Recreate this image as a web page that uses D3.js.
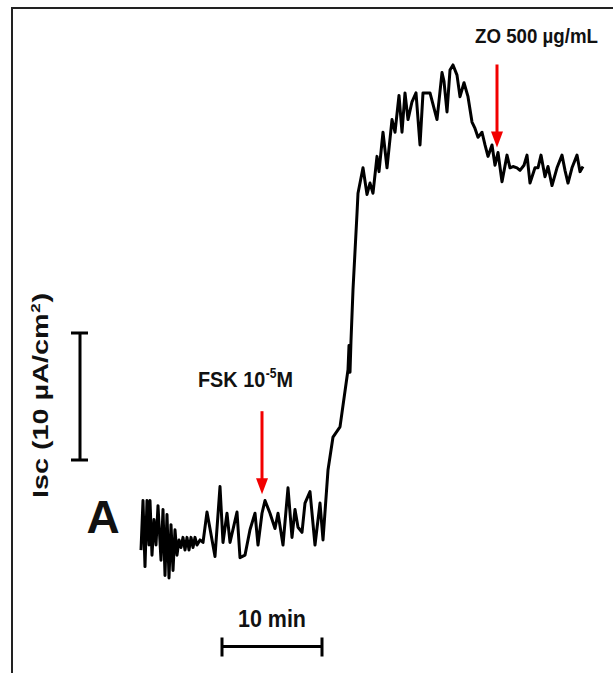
<!DOCTYPE html>
<html>
<head>
<meta charset="utf-8">
<script src="https://cdn.jsdelivr.net/npm/d3@7"></script>
<style>
  body { margin: 0; background: #fff; }
  .lbl { font-family: "Liberation Sans", Arial, sans-serif; font-weight: bold; fill: #111; }
</style>
</head>
<body>
<div id="chart"></div>
<script>
// trace data: time (min) and short-circuit current (µA/cm²)
var time = [0.1,0.3,0.5,0.7,0.9,1.0,1.2,1.4,1.6,1.8,2.1,2.3,2.5,2.7,2.9,3.1,3.3,3.5,3.7,3.9,
  4.1,4.3,4.5,4.7,4.9,5.1,5.3,5.5,5.7,6.0,6.3,6.7,7.5,8.0,8.3,8.7,9.0,9.7,10.0,10.5,
  11.0,11.5,11.8,12.2,12.5,13.0,13.5,13.8,14.3,14.8,15.2,15.5,15.8,16.2,16.5,17.0,17.5,18.0,18.3,18.8,
  19.3,20.0,20.8,20.9,21.0,21.1,21.3,21.7,21.8,22.3,22.7,23.0,23.3,23.7,23.9,24.3,24.7,25.2,25.5,25.9,
  26.2,26.5,26.8,27.2,27.6,28.0,28.3,29.0,29.7,30.2,30.4,30.7,31.0,31.3,31.7,32.0,32.4,32.8,33.2,33.5,
  33.8,34.2,34.5,34.8,35.2,35.5,35.8,36.2,36.7,37.0,37.3,37.7,38.0,38.4,38.7,39.0,39.5,39.8,40.1,40.5,
  40.8,41.2,41.7,42.2,42.5,42.8,43.2,43.7,44.0,44.3];
var isc = [-0.4,3.5,-1.7,3.5,0.0,3.5,-0.8,2.0,0.0,3.1,-1.2,2.8,-2.4,2.4,-2.6,1.6,-2.0,1.2,-0.8,0.4,
  -0.2,0.6,-0.4,0.6,-0.4,0.6,-0.2,0.6,0.0,0.4,0.2,2.6,-0.9,4.6,0.2,2.5,0.2,2.6,-1.0,-0.8,
  1.2,2.5,0.0,2.5,3.5,2.5,1.3,2.5,0.0,4.5,0.6,2.8,1.4,1.0,3.3,4.2,0.0,3.3,0.4,5.9,
  8.5,9.3,13.8,15.7,13.6,16.1,20.1,26.1,27.7,29.7,27.6,28.5,27.7,30.6,29.4,32.5,29.7,33.5,32.5,35.4,
  32.5,35.6,33.5,34.9,35.6,31.5,35.6,35.6,33.5,37.2,36.5,34.1,37.4,37.8,37.0,35.3,36.4,35.3,33.3,32.8,
  32.1,32.5,31.5,30.6,31.5,29.9,30.9,28.6,30.7,29.7,29.8,29.7,29.5,29.9,30.7,28.5,29.7,29.7,30.7,29.0,
  29.8,28.3,29.7,30.7,29.5,28.5,29.7,30.7,29.4,29.8];

// treatments (arrow time, arrow tip level)
var treatLabel = ["FSK 10", "ZO 500 µg/mL"];
var treatTime = [12.2, 35.7];
var treatLevel = [4.0, 31.3];

// scale bars
var barMinutes = 10, barMinStart = 8.2, barMinLevel = -8.0;
var barIsc = 10, barIscStart = 6.7, barIscTime = -6.0;

var W = 613, H = 673;
var x = d3.scaleLinear().domain([0, 44]).range([140, 580]);
var y = d3.scaleLinear().domain([0, 40]).range([545, 37]);

var svg = d3.select("#chart").append("svg")
    .attr("width", W)
    .attr("height", H)
    .style("background-color", "#fff");

// frame (top + left only)
svg.append("path")
    .attr("d", "M12," + H + "V8H" + W)
    .attr("fill", "none")
    .attr("stroke", "#222")
    .attr("stroke-width", 2);

// trace
var line = d3.line()
    .x(function(d, i) { return x(time[i]); })
    .y(function(d) { return y(d); });

svg.append("path")
    .datum(isc)
    .attr("d", line)
    .attr("fill", "none")
    .attr("stroke", "#000")
    .attr("stroke-width", 3)
    .attr("stroke-linejoin", "round");

// arrows
var arrowLen = 83, headLen = 16, headW = 6;
treatTime.forEach(function(t, i) {
  var ax = x(t), tip = y(treatLevel[i]);
  svg.append("line")
      .attr("x1", ax).attr("x2", ax)
      .attr("y1", tip - arrowLen).attr("y2", tip - headLen + 2)
      .attr("stroke", "#f20000")
      .attr("stroke-width", 3);
  svg.append("path")
      .attr("d", "M" + (ax - headW) + "," + (tip - headLen) + "L" + (ax + headW) + "," + (tip - headLen) + "L" + ax + "," + tip + "Z")
      .attr("fill", "#f20000");
});

// writes pieces of text one after another, then squeezes/stretches
// the group so the whole label spans `len` pixels
function fitText(px, py, rot, len, parts) {
  var g = svg.append("g");
  var inner = g.append("g");
  var cx = 0;
  parts.forEach(function(p) {
    var t = inner.append("text")
        .attr("class", "lbl")
        .attr("x", cx)
        .attr("y", p.dy || 0)
        .style("font-size", p.size + "px")
        .text(p.text);
    cx += t.node().getComputedTextLength() + (p.gap || 0);
  });
  g.attr("transform", "translate(" + px + "," + py + ")" + (rot ? " rotate(" + rot + ")" : ""));
  inner.attr("transform", "scale(" + (len / cx) + ",1)");
}

// FSK label with superscript
fitText(x(treatTime[0]) - 64, y(treatLevel[0]) - arrowLen - 24, 0, 95, [
  {text: treatLabel[0], size: 23, gap: 0.5},
  {text: "-5", size: 14, dy: -9},
  {text: "M", size: 23}
]);

// ZO label
fitText(x(treatTime[1]) - 22, y(treatLevel[1]) - arrowLen - 21, 0, 123, [
  {text: treatLabel[1], size: 21}
]);

// horizontal scale bar (10 min)
var hy = y(barMinLevel), hx0 = x(barMinStart), hx1 = x(barMinStart + barMinutes);
svg.append("path")
    .attr("d", "M" + hx0 + "," + hy + "H" + hx1 + "M" + hx0 + "," + (hy - 9) + "V" + (hy + 10) + "M" + hx1 + "," + (hy - 9) + "V" + (hy + 10))
    .attr("fill", "none").attr("stroke", "#000").attr("stroke-width", 3);
fitText((hx0 + hx1) / 2 - 34, hy - 20, 0, 68, [
  {text: barMinutes + " min", size: 23}
]);

// vertical scale bar (10 µA/cm²)
var vx = x(barIscTime), vy0 = y(barIscStart), vy1 = y(barIscStart + barIsc);
svg.append("path")
    .attr("d", "M" + vx + "," + vy0 + "V" + vy1 + "M" + (vx - 9) + "," + vy0 + "H" + (vx + 8) + "M" + (vx - 9) + "," + vy1 + "H" + (vx + 8))
    .attr("fill", "none").attr("stroke", "#000").attr("stroke-width", 3);
fitText(48, 498, -90, 205, [
  {text: "Isc (" + barIsc + " µA/cm", size: 22, gap: 0.5},
  {text: "2", size: 13, dy: -8, gap: 0.5},
  {text: ")", size: 22}
]);

// panel letter
svg.append("text")
    .attr("class", "lbl")
    .attr("x", 103)
    .attr("y", 533)
    .attr("text-anchor", "middle")
    .style("font-size", "46px")
    .text("A");
</script>
</body>
</html>
